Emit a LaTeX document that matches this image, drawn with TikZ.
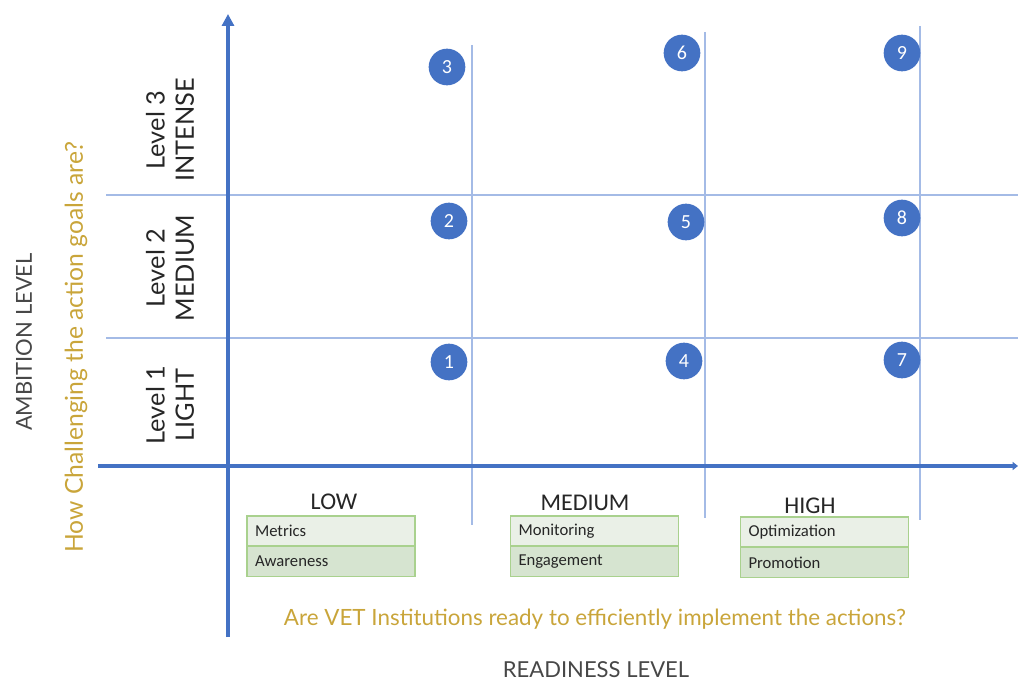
\documentclass[tikz,border=0pt]{standalone}
\usepackage{fontspec}
\setmainfont{Carlito}
\newfontfamily\titlefont{Lato}
\usetikzlibrary{arrows.meta}
\definecolor{axisblue}{HTML}{4472C4}
\definecolor{gridblue}{HTML}{A4BBE6}
\definecolor{goldtxt}{HTML}{C9A53A}
\definecolor{greenedge}{HTML}{A9D18E}
\definecolor{greenlight}{HTML}{EAF0E7}
\definecolor{greendark}{HTML}{D6E4D0}
\definecolor{darktxt}{HTML}{262626}
\tikzset{
  axisline/.style={draw=axisblue, line width=2.6pt},
  gridline/.style={draw=gridblue, line width=0.9pt},
  numdot/.style={circle, fill=axisblue, text=white, minimum size=27.5pt, inner sep=0pt, font=\fontsize{15}{16}\selectfont},
  levellabel/.style={rotate=90, align=center, text=darktxt, font=\fontsize{19}{22}\selectfont\titlefont},
  colhead/.style={text=darktxt, font=\fontsize{18}{19}\selectfont},
  cell/.style={draw=greenedge, line width=0.9pt, minimum width=126pt, minimum height=22.5pt, text width=114pt, inner xsep=6pt, align=left, text=darktxt, font=\fontsize{12.5}{13}\selectfont},
  goldlabel/.style={text=goldtxt, font=\fontsize{16.8}{18}\selectfont\titlefont},
  axistitle/.style={text=darktxt!85, inner sep=0pt, font=\fontsize{16.5}{18}\selectfont\titlefont},
}
\begin{document}
\begin{tikzpicture}[x=0.75pt, y=-0.75pt]
\useasboundingbox (0,0) rectangle (1018,681);
% grid lines
\coordinate (h1l) at (106,195); \coordinate (h1r) at (1018,195);
\coordinate (h2l) at (106,338); \coordinate (h2r) at (1018,338);
\coordinate (v1t) at (472,45);  \coordinate (v1b) at (472,525);
\coordinate (v2t) at (705,32);  \coordinate (v2b) at (705,518);
\coordinate (v3t) at (920,26);  \coordinate (v3b) at (920,520);
\draw[gridline] (h1l) -- (h1r);
\draw[gridline] (h2l) -- (h2r);
\draw[gridline] (v1t) -- (v1b);
\draw[gridline] (v2t) -- (v2b);
\draw[gridline] (v3t) -- (v3b);
% axes
\coordinate (ya) at (228,637); \coordinate (yb) at (228,14);
\coordinate (xa) at (98,466);  \coordinate (xb) at (1018,466);
\draw[axisline, -{Triangle[length=9pt,width=9pt]}] (ya) -- (yb);
\draw[axisline, -{Triangle[length=4pt,width=6pt]}] (xa) -- (xb);
% numbered dots
\node[numdot] (n1) at (449,362) {1};
\node[numdot] (n2) at (449,221) {2};
\node[numdot] (n3) at (447,67) {3};
\node[numdot] (n4) at (684,361) {4};
\node[numdot] (n5) at (686,222) {5};
\node[numdot] (n6) at (682,53) {6};
\node[numdot] (n7) at (902,360) {7};
\node[numdot] (n8) at (902,218) {8};
\node[numdot] (n9) at (902,53) {9};
% level labels
\node[levellabel] (l3) at (170,130) {Level 3\\INTENSE};
\node[levellabel] (l2) at (170,268) {Level 2\\MEDIUM};
\node[levellabel] (l1) at (170,405) {Level 1\\LIGHT};
\node[axistitle, rotate=90] (amb) at (24,342) {AMBITION LEVEL};
\node[goldlabel, rotate=90, font=\fontsize{18.5}{20}\selectfont\titlefont] (how) at (76,347) {How Challenging the action goals are?};
% column heads
\node[colhead] (low) at (334,502) {LOW};
\node[colhead] (med) at (585,503) {MEDIUM};
\node[colhead] (high) at (810,506) {HIGH};
% boxes
\node[cell, fill=greenlight] (b1a) at (331,531) {Metrics};
\node[cell, fill=greendark] (b1b) at (331,561.5) {Awareness};
\node[cell, fill=greenlight] (b2a) at (594.5,531) {Monitoring};
\node[cell, fill=greendark] (b2b) at (594.5,561.5) {Engagement};
\node[cell, fill=greenlight] (b3a) at (824.5,532) {Optimization};
\node[cell, fill=greendark] (b3b) at (824.5,562.5) {Promotion};
% bottom labels
\node[goldlabel] (are) at (595,619) {Are VET Institutions ready to efficiently implement the actions?};
\node[axistitle] (ready) at (596,670) {READINESS LEVEL};
\end{tikzpicture}
\end{document}
